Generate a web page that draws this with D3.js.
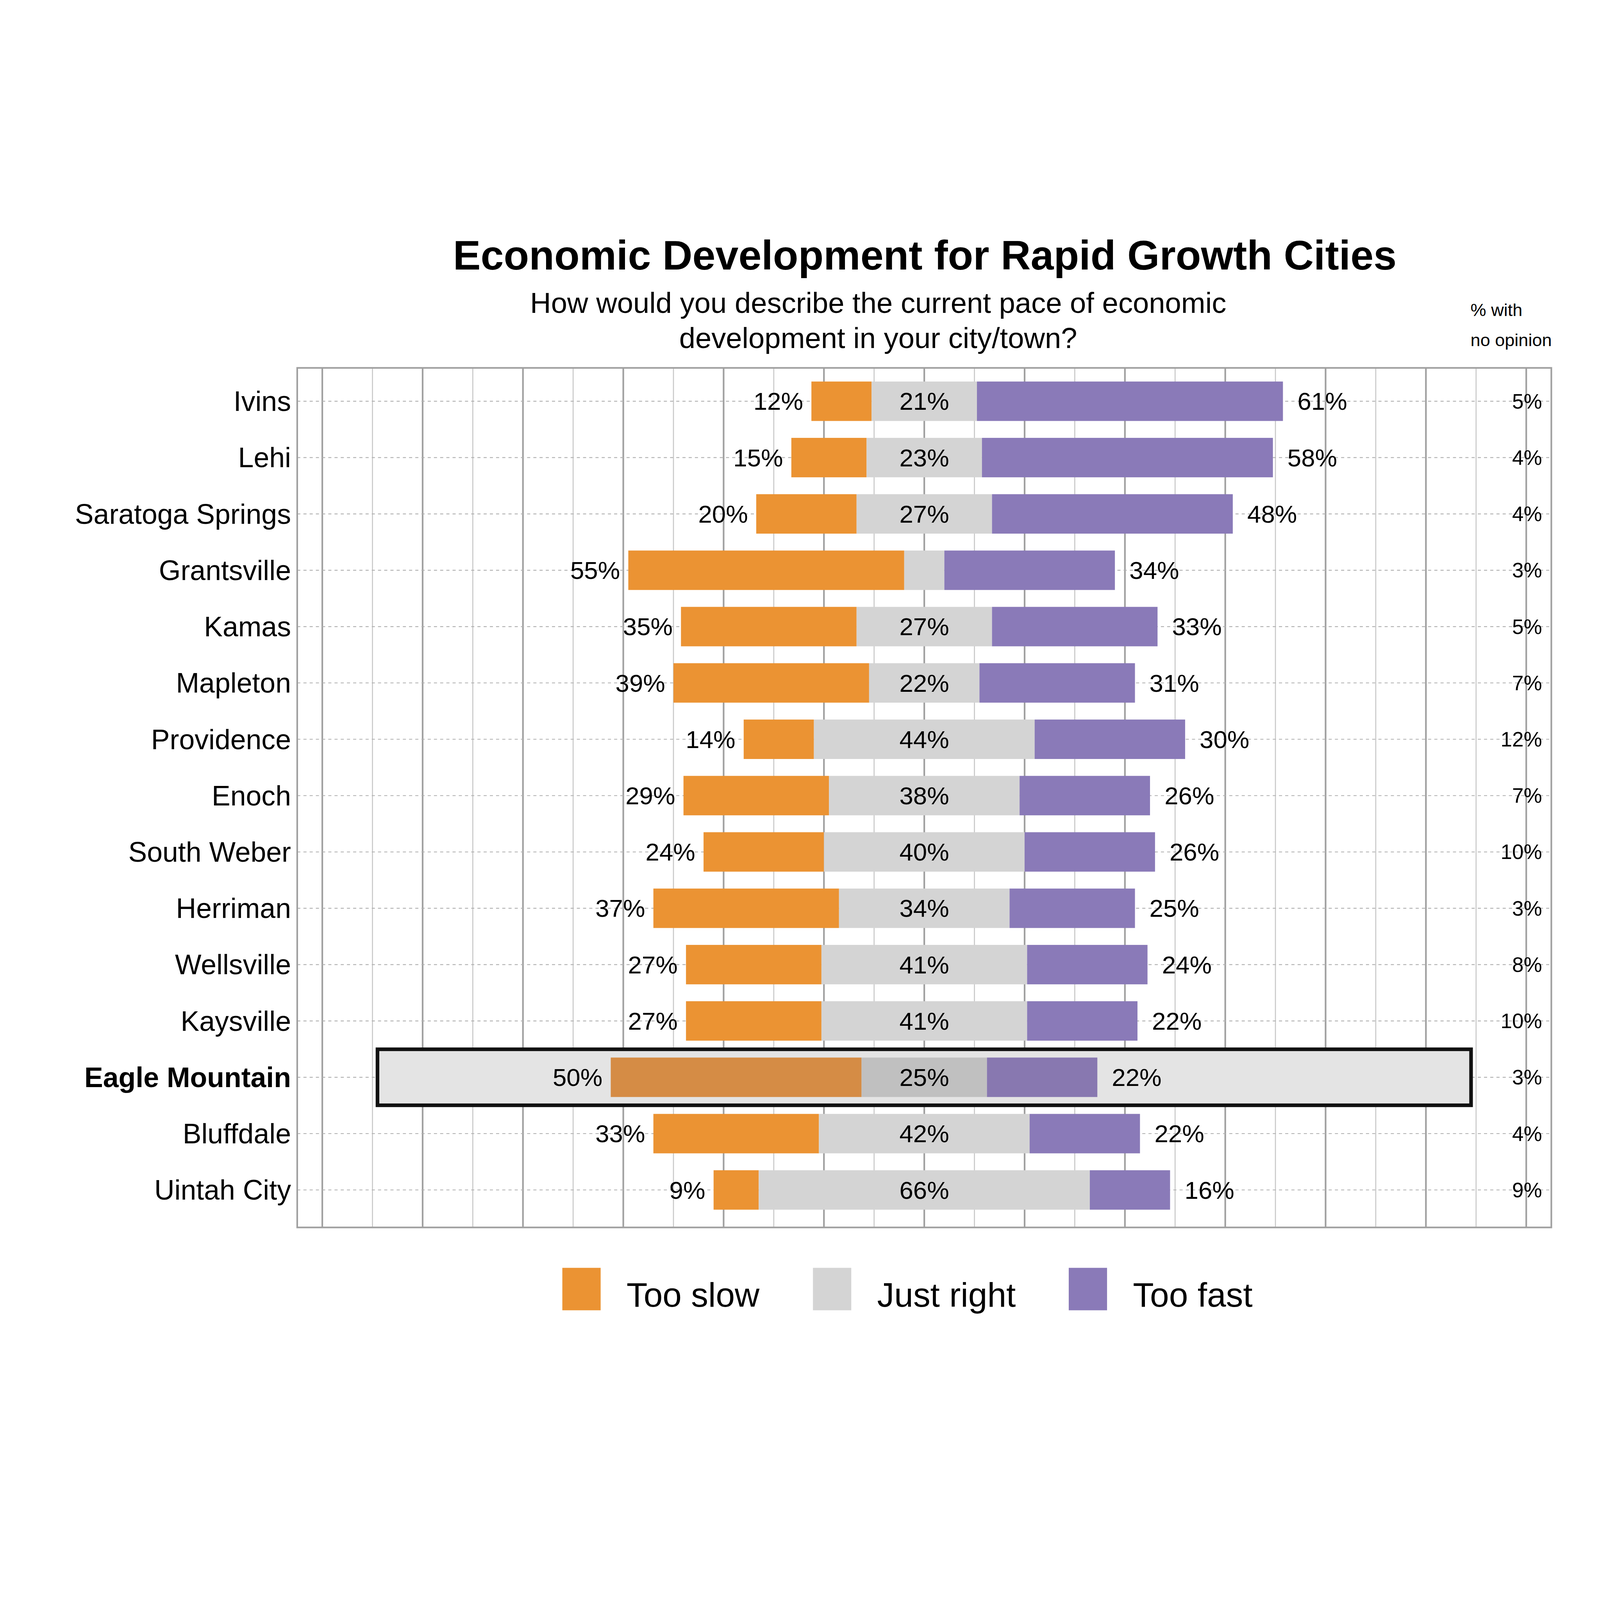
<!DOCTYPE html>
<html><head><meta charset="utf-8">
<script src="https://cdn.jsdelivr.net/npm/d3@7"></script>
<style>html,body{margin:0;padding:0;background:#fff;overflow:hidden}
#chart{display:block;width:100vw;height:100vh}
text{font-family:"Liberation Sans",Arial,sans-serif}</style>
</head><body><svg id="chart"></svg>
<script>
// data
const cities = ["Ivins","Lehi","Saratoga Springs","Grantsville","Kamas","Mapleton","Providence","Enoch","South Weber","Herriman","Wellsville","Kaysville","Eagle Mountain","Bluffdale","Uintah City"];
const tooSlow = [12,15,20,55,35,39,14,29,24,37,27,27,50,33,9];
const justRight = [21,23,27,8,27,22,44,38,40,34,41,41,25,42,66];
const tooFast = [61,58,48,34,33,31,30,26,26,25,24,22,22,22,16];
const noOpinion = [5,4,4,3,5,7,12,7,10,3,8,10,3,4,9];
const highlight = "Eagle Mountain";
const legendNames = ["Too slow","Just right","Too fast"];

const W = 1545, H = 1138.5;
const svg = d3.select("#chart").attr("viewBox",`0 0 ${W} ${H}`);
const m = {left:287, right:1498, top:152, bottom:982};

const x = d3.scaleLinear().domain([-125,125]).range([m.left,m.right]);
const y = d3.scaleBand().domain(cities).range([m.top+5, m.bottom-9]).paddingInner(0.3).paddingOuter(0.15);
const bh = y.bandwidth();
const cy = c => y(c) + bh/2;

const colors = ["#eb9333","#d4d4d4","#8a7ab8"];
const colorsHi = ["#d58c45","#c0c0c0","#8878b0"];

// grid
d3.range(-120,121,10).forEach(v=>{
  const major = v%20===0;
  svg.append("line").attr("x1",x(v)).attr("x2",x(v)).attr("y1",m.top).attr("y2",m.bottom)
    .attr("stroke",major?"#a0a0a0":"#c8c8c8").attr("stroke-width",major?1.6:1);
});
cities.forEach(c=>{
  svg.append("line").attr("x1",m.left).attr("x2",m.right).attr("y1",cy(c)).attr("y2",cy(c))
    .attr("stroke","#b0b0b0").attr("stroke-dasharray","3,3").attr("stroke-width",0.8);
});
svg.append("rect").attr("x",m.left).attr("y",m.top).attr("width",m.right-m.left).attr("height",m.bottom-m.top)
  .attr("fill","none").attr("stroke","#a0a0a0").attr("stroke-width",1.6);

// highlight box
svg.append("rect").attr("x",x(-109)).attr("y",y(highlight)-8).attr("width",x(109)-x(-109)).attr("height",bh+16)
  .attr("fill","#e4e4e4").attr("stroke","#111").attr("stroke-width",3.5);

cities.forEach((c,i)=>{
  const hi = c===highlight;
  const col = hi?colorsHi:colors;
  const j0 = -justRight[i]/2, j1 = justRight[i]/2;
  const segs = [[j0-tooSlow[i], j0],[j0,j1],[j1,j1+tooFast[i]]];
  segs.forEach((s,k)=>{
    svg.append("rect").attr("x",x(s[0])).attr("y",y(c)).attr("width",x(s[1])-x(s[0])).attr("height",bh).attr("fill",col[k]);
  });
  const fs = 24;
  svg.append("text").attr("x",x(segs[0][0])-8).attr("y",cy(c)).attr("dy","0.35em").attr("text-anchor","end")
    .attr("font-size",fs).text(tooSlow[i]+"%");
  if (justRight[i]>=10) svg.append("text").attr("x",x(0)).attr("y",cy(c)).attr("dy","0.35em").attr("text-anchor","middle")
    .attr("font-size",fs).text(justRight[i]+"%");
  svg.append("text").attr("x",x(segs[2][1])+14).attr("y",cy(c)).attr("dy","0.35em")
    .attr("font-size",fs).text(tooFast[i]+"%");
  svg.append("text").attr("x",1489).attr("y",cy(c)).attr("dy","0.35em").attr("text-anchor","end")
    .attr("font-size",20).text(noOpinion[i]+"%");
  svg.append("text").attr("x",m.left-6).attr("y",cy(c)).attr("dy","0.35em").attr("text-anchor","end")
    .attr("font-size",27).attr("font-weight",hi?"bold":"normal").text(c);
});

// titles
svg.append("text").attr("x",893).attr("y",57).attr("text-anchor","middle").attr("font-size",40).attr("font-weight","bold")
  .text("Economic Development for Rapid Growth Cities");
svg.append("text").attr("x",848).attr("y",99).attr("text-anchor","middle").attr("font-size",28)
  .text("How would you describe the current pace of economic");
svg.append("text").attr("x",848).attr("y",133).attr("text-anchor","middle").attr("font-size",28)
  .text("development in your city/town?");
svg.append("text").attr("x",1420).attr("y",102).attr("font-size",17).text("% with");
svg.append("text").attr("x",1420).attr("y",131).attr("font-size",17).text("no opinion");

// legend
const lx = [543,785,1032];
legendNames.forEach((n,k)=>{
  svg.append("rect").attr("x",lx[k]).attr("y",1021).attr("width",37).attr("height",41).attr("fill",colors[k]);
  svg.append("text").attr("x",lx[k]+62).attr("y",1047).attr("dy","0.35em").attr("font-size",33).text(n);
});
</script></body></html>
